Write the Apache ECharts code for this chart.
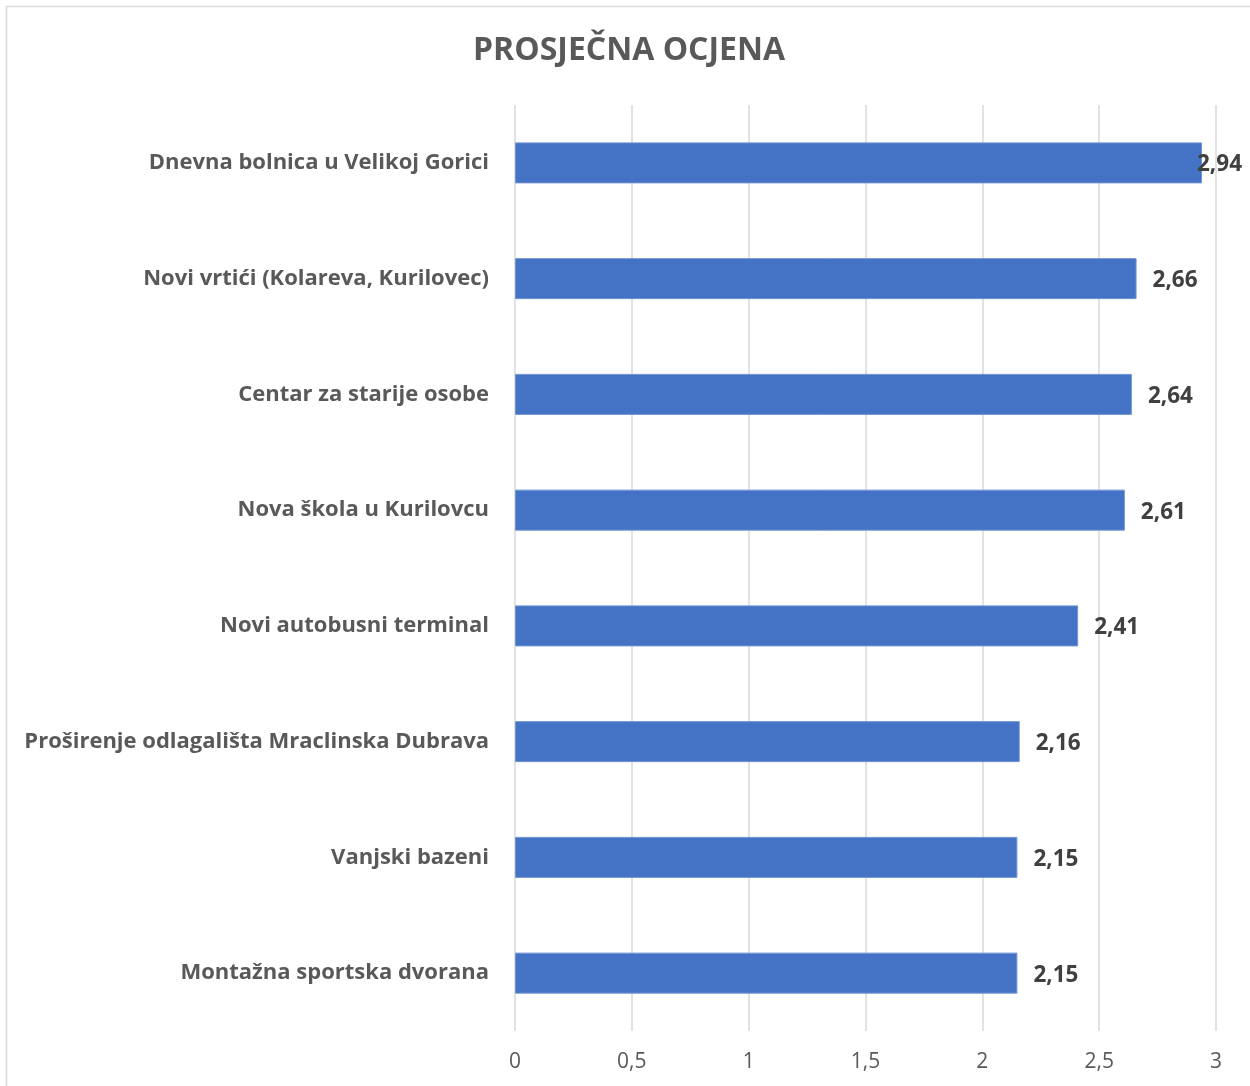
<!DOCTYPE html>
<html>
<head>
<meta charset="utf-8">
<script src="https://cdn.jsdelivr.net/npm/echarts@6/dist/echarts.min.js"></script>
<style>
html,body{margin:0;padding:0;background:#fff;}
#chart{width:1250px;height:1086px;}
</style>
</head>
<body>
<div id="chart"></div>
<script>
const titleText = 'PROSJEČNA OCJENA';
const categories = [
  'Dnevna bolnica u Velikoj Gorici',
  'Novi vrtići (Kolareva, Kurilovec)',
  'Centar za starije osobe',
  'Nova škola u Kurilovcu',
  'Novi autobusni terminal',
  'Proširenje odlagališta Mraclinska Dubrava',
  'Vanjski bazeni',
  'Montažna sportska dvorana'
];
const values = [2.94, 2.66, 2.64, 2.61, 2.41, 2.16, 2.15, 2.15];
const axisTicks = [0, 0.5, 1, 1.5, 2, 2.5, 3];

const FONT = '"Open Sans"';
const fmt = v => String(v).replace('.', ',');

const chart = echarts.init(document.getElementById('chart'), null, {renderer: 'canvas'});
const data = values.map((v, i) => {
  const item = {value: v};
  if (i === 0) item.label = {distance: -5};
  return item;
});
chart.setOption({
  backgroundColor: '#ffffff',
  animation: false,
  title: {
    text: titleText,
    left: 468,
    top: 30,
    textStyle: {fontFamily: FONT, fontSize: 32, fontWeight: 'bold', color: '#595959'}
  },
  graphic: [{
    type: 'rect',
    shape: {x: 6.5, y: 6.5, width: 1400, height: 1200},
    style: {fill: 'none', stroke: '#d9d9d9', lineWidth: 1.5},
    silent: true
  }],
  grid: {left: 515, right: 34, top: 105, bottom: 55, containLabel: false},
  xAxis: {
    type: 'value',
    min: axisTicks[0],
    max: axisTicks[axisTicks.length - 1],
    interval: 0.5,
    axisLine: {show: false},
    axisTick: {show: false},
    splitLine: {show: true, lineStyle: {color: '#d9d9d9', width: 1.5}},
    axisLabel: {
      formatter: v => fmt(v),
      fontFamily: FONT, fontSize: 21, color: '#595959', margin: 21
    }
  },
  yAxis: {
    type: 'category',
    data: categories,
    inverse: true,
    axisLine: {show: false},
    axisTick: {show: false},
    splitLine: {show: false},
    axisLabel: {
      fontFamily: FONT, fontSize: 22, fontWeight: 'bold', color: '#595959', margin: 26,
      padding: [4, 0, 0, 0]
    }
  },
  series: [{
    type: 'bar',
    data: data,
    barWidth: 41,
    itemStyle: {color: '#4472C4', borderColor: '#6f93d3', borderWidth: 1},
    label: {
      show: true,
      position: 'right',
      distance: 16,
      offset: [0, 2],
      formatter: p => fmt(p.value),
      fontFamily: FONT, fontSize: 22.5, fontWeight: 'bold', color: '#404040'
    }
  }]
});
</script>
</body>
</html>
